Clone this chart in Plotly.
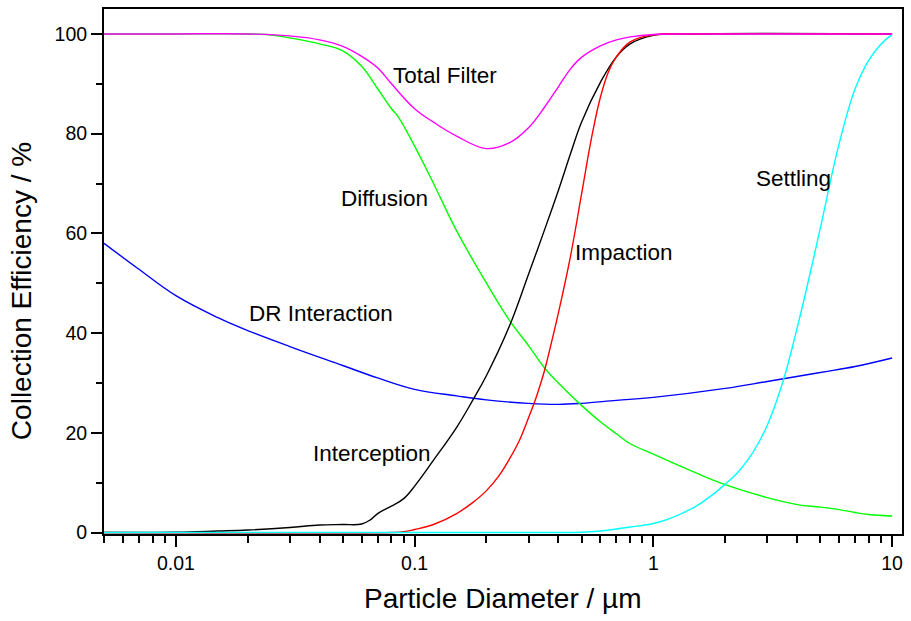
import math
import plotly.graph_objects as go

# Particle diameters (µm) at which each collection mechanism is sampled
d_total = [0.005, 0.01, 0.02, 0.03, 0.04, 0.05, 0.06, 0.07, 0.08, 0.1, 0.12, 0.15,
           0.2, 0.25, 0.3, 0.35, 0.4, 0.45, 0.5, 0.6, 0.7, 0.8, 1, 1.5, 10]
eff_total = [100, 100, 100, 99.6, 98.8, 97.5, 95.5, 93.2, 90.0, 85.0, 82.3, 79.5,
             77.0, 78.2, 81.2, 85.3, 89.4, 93.0, 95.3, 97.6, 98.8, 99.4, 99.9, 100, 100]

d_diff = [0.005, 0.01, 0.02, 0.025, 0.03, 0.04, 0.05, 0.06, 0.07, 0.08, 0.085, 0.1,
          0.12, 0.15, 0.2, 0.25, 0.3, 0.35, 0.4, 0.5, 0.6, 0.7, 0.8, 1, 1.5, 2,
          3, 4, 5, 6, 7, 8, 10]
eff_diff = [100, 100, 100, 99.8, 99.2, 98.0, 96.6, 93.5, 89.0, 85.0, 83.5, 77.5,
            70.0, 60.5, 50.0, 42.5, 37.5, 33.0, 30.0, 25.5, 22.2, 19.8, 17.8, 15.7, 12.0, 9.6,
            7.0, 5.6, 5.1, 4.6, 4.0, 3.6, 3.3]

d_dr = [0.005, 0.007, 0.01, 0.015, 0.02, 0.03, 0.05, 0.07, 0.1, 0.15, 0.2, 0.3,
        0.4, 0.5, 0.7, 1, 2, 3, 5, 7, 10]
eff_dr = [58.0, 52.8, 47.5, 43.1, 40.5, 37.3, 33.5, 31.0, 28.7, 27.4, 26.6, 25.9,
          25.7, 25.9, 26.5, 27.1, 28.9, 30.3, 32.1, 33.3, 35.0]

d_int = [0.005, 0.01, 0.015, 0.02, 0.03, 0.04, 0.05, 0.06, 0.065, 0.07, 0.08, 0.09,
         0.1, 0.12, 0.15, 0.175, 0.2, 0.25, 0.3, 0.35, 0.4, 0.45, 0.5, 0.6, 0.7, 0.8,
         1, 1.5, 10]
eff_int = [0, 0.05, 0.3, 0.5, 1.0, 1.5, 1.6, 1.7, 2.5, 3.8, 5.3, 6.8,
           9.3, 14.5, 21.1, 26.5, 31.5, 41.5, 51.8, 60.7, 68.6, 76.0, 82.3, 90.3, 95.4, 98.0,
           99.7, 100, 100]

d_imp = [0.005, 0.08, 0.09, 0.1, 0.12, 0.15, 0.175, 0.2, 0.225, 0.25, 0.275, 0.3,
         0.325, 0.35, 0.375, 0.4, 0.45, 0.5, 0.55, 0.6, 0.65, 0.7, 0.8, 1, 1.5, 10]
eff_imp = [0, 0, 0.15, 0.6, 1.6, 3.8, 6.0, 8.4, 11.3, 14.8, 18.5, 23.0,
           27.5, 32.5, 38.3, 44.0, 55.5, 67.8, 79.0, 87.3, 92.5, 95.4, 98.4, 99.8, 100, 100]

d_set = [0.005, 0.4, 0.5, 0.6, 0.7, 0.8, 1, 1.2, 1.5, 1.75, 2, 2.25, 2.5, 2.75, 3,
         3.5, 4, 4.5, 5, 6, 7, 8, 9, 10]
eff_set = [0, 0, 0.05, 0.3, 0.7, 1.1, 1.8, 3.0, 5.2, 7.4, 9.7, 12.0, 14.7, 17.9, 21.5,
           30.5, 41.0, 51.3, 61.0, 78.0, 89.0, 94.8, 98.0, 99.9]

# Curve labels: (text, diameter at left edge of text, efficiency at text middle)
label_text = ["Total Filter", "Diffusion", "DR Interaction", "Interception", "Impaction", "Settling"]
label_d = [0.0794, 0.0482, 0.0198, 0.0369, 0.461, 2.646]
label_eff = [91.7, 67.0, 44.0, 15.8, 56.2, 71.0]

x_tick_vals = [0.01, 0.1, 1, 10]
x_tick_text = ["0.01", "0.1", "1", "10"]
x_minor_vals = [m * 10.0 ** e for e in range(-3, 2) for m in range(2, 10)]

FONT = "Liberation Sans, Arial, sans-serif"

fig = go.Figure()

series = [
    (d_dr, eff_dr, "#0000FF", "DR Interaction"),
    (d_diff, eff_diff, "#00FF00", "Diffusion"),
    (d_int, eff_int, "#000000", "Interception"),
    (d_imp, eff_imp, "#FF0000", "Impaction"),
    (d_set, eff_set, "#00FFFF", "Settling"),
    (d_total, eff_total, "#FF00FF", "Total Filter"),
]
for xs, ys, color, name in series:
    fig.add_trace(go.Scatter(
        x=xs, y=ys, mode="lines", name=name,
        line=dict(color=color, width=1.4, shape="spline", smoothing=1.1),
        showlegend=False,
    ))

for txt, xd, ye in zip(label_text, label_d, label_eff):
    fig.add_annotation(
        x=math.log10(xd), y=ye, xref="x", yref="y",
        text=txt, showarrow=False, xanchor="left", yanchor="middle",
        font=dict(family=FONT, size=22.5, color="#000000"),
    )

# Axis titles
fig.add_annotation(
    x=0.5, y=-0.123, xref="paper", yref="paper", text="Particle Diameter / µm",
    showarrow=False, xanchor="center", yanchor="middle",
    font=dict(family=FONT, size=28, color="#000000"),
)
fig.add_annotation(
    x=-0.1025, y=0.463, xref="paper", yref="paper", text="Collection Efficiency / %",
    textangle=-90, showarrow=False, xanchor="center", yanchor="middle",
    font=dict(family=FONT, size=28, color="#000000"),
)

fig.update_layout(
    width=911, height=621,
    margin=dict(l=104, r=7, t=9, b=87),
    paper_bgcolor="white", plot_bgcolor="white",
    font=dict(family=FONT, color="#000000"),
    showlegend=False,
)

fig.update_xaxes(
    type="log", range=[math.log10(0.005), math.log10(11)],
    tickmode="array", tickvals=x_tick_vals, ticktext=x_tick_text,
    ticks="outside", ticklen=11, tickwidth=2, tickcolor="black",
    minor=dict(tickmode="array", tickvals=x_minor_vals, ticks="outside",
               ticklen=7, tickwidth=2, tickcolor="black", showgrid=False),
    showline=True, linecolor="black", linewidth=2, mirror=True,
    showgrid=False, zeroline=False,
    tickfont=dict(family=FONT, size=19.5, color="black"),
)
fig.update_yaxes(
    range=[-0.3, 105],
    tickmode="linear", tick0=0, dtick=20,
    ticks="outside", ticklen=11, tickwidth=2, tickcolor="black",
    minor=dict(tickmode="linear", tick0=0, dtick=10, ticks="outside",
               ticklen=6, tickwidth=2, tickcolor="black", showgrid=False),
    showline=True, linecolor="black", linewidth=2, mirror=True,
    showgrid=False, zeroline=False,
    tickfont=dict(family=FONT, size=19.5, color="black"),
)

fig.write_html("out.html")
